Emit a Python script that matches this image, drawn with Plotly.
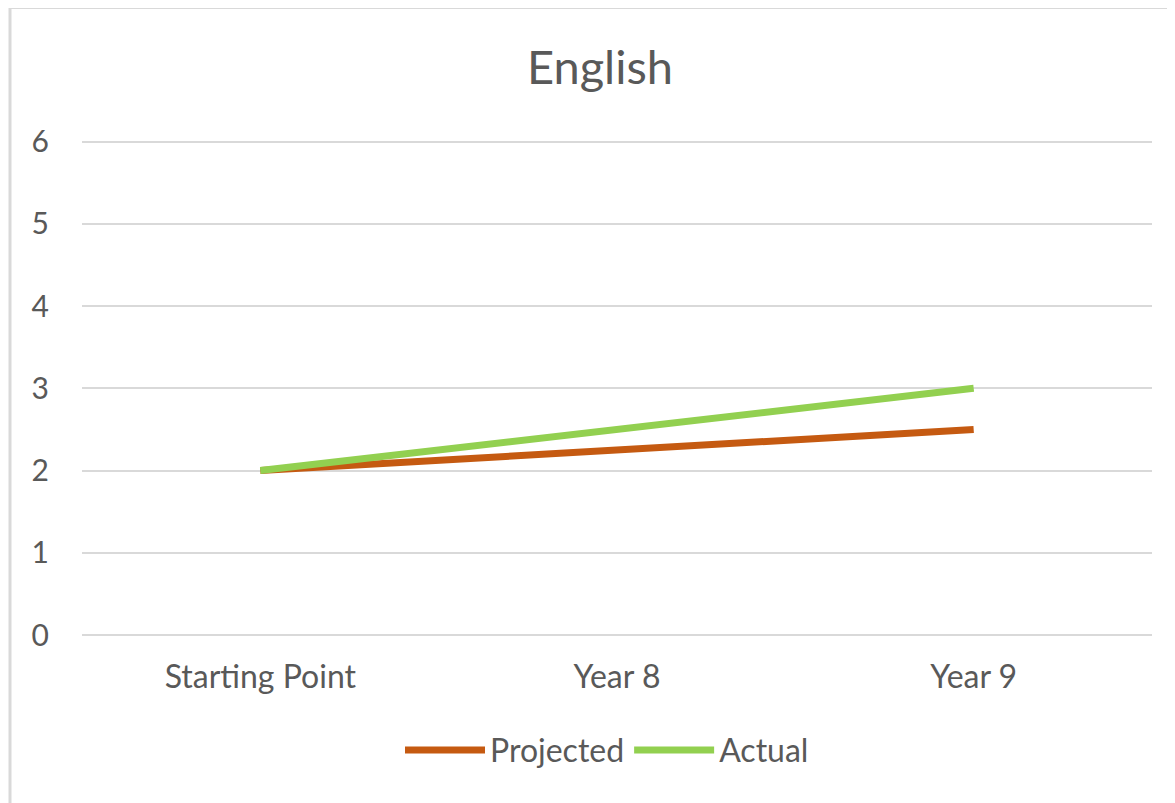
import plotly.graph_objects as go

categories = ["Starting Point", "Year 8", "Year 9"]
projected = [2, 2.25, 2.5]
actual = [2, 2.5, 3]
y_ticks = [0, 1, 2, 3, 4, 5, 6]

FONT = "Lato"
TXT = "#595959"

fig = go.Figure()
fig.add_trace(go.Scatter(x=categories, y=projected, mode="lines", name="Projected",
                         line=dict(color="#C55A11", width=7)))
fig.add_trace(go.Scatter(x=categories, y=actual, mode="lines", name="Actual",
                         line=dict(color="#92D050", width=7)))

OFF = 8  # page body margin
W, H = 1175 - OFF, 803 - OFF
# target page pixels of plot area
PL, PR, PT, PB = 82, 1152, 142, 635
YMAX = 6.02
# extend top slightly so 6-gridline is drawn
top_px = PB - (PB - PT) * YMAX / 6
L, T = PL - OFF, top_px - OFF
R = W - (PR - OFF)
B = H - (PB - OFF)
pw, ph = W - L - R, H - T - B

def px_x(x):
    return (x - OFF - L) / pw

def px_y(y):
    return (H - B - (y - OFF)) / ph

fig.update_layout(
    width=W, height=H,
    margin=dict(l=L, r=R, t=T, b=B, pad=0),
    paper_bgcolor="white", plot_bgcolor="white",
    font=dict(family=FONT, color=TXT),
    title=dict(text="English", font=dict(size=47, color=TXT, family=FONT),
               x=px_x(600), xref="paper", xanchor="center",
               y=1 - (68 - OFF) / H, yref="container", yanchor="middle"),
    xaxis=dict(showgrid=False, showline=False, zeroline=False, ticks="",
               tickfont=dict(size=32, color=TXT), ticklabelstandoff=20,
               range=[-0.5, 2.5], fixedrange=True),
    yaxis=dict(range=[0, YMAX], tickvals=y_ticks, showgrid=True, gridcolor="#D9D9D9",
               gridwidth=2, zeroline=True, zerolinecolor="#D9D9D9", zerolinewidth=2,
               showline=False, ticks="", tickfont=dict(size=30, color=TXT),
               ticklabelstandoff=32),
    legend=dict(orientation="h", x=px_x(607), xanchor="center",
                y=px_y(750), yanchor="middle", font=dict(size=32, color=TXT),
                itemwidth=80, bgcolor="rgba(0,0,0,0)"),
    showlegend=True,
)

# chart-area border (top and left edges visible)
fig.add_shape(type="line", xref="paper", yref="paper",
              x0=px_x(9), x1=px_x(1180), y0=px_y(8), y1=px_y(8),
              line=dict(color="#D9D9D9", width=3))
fig.add_shape(type="line", xref="paper", yref="paper",
              x0=px_x(10), x1=px_x(10), y0=px_y(8), y1=px_y(810),
              line=dict(color="#D9D9D9", width=3))

fig.write_html("out.html")
